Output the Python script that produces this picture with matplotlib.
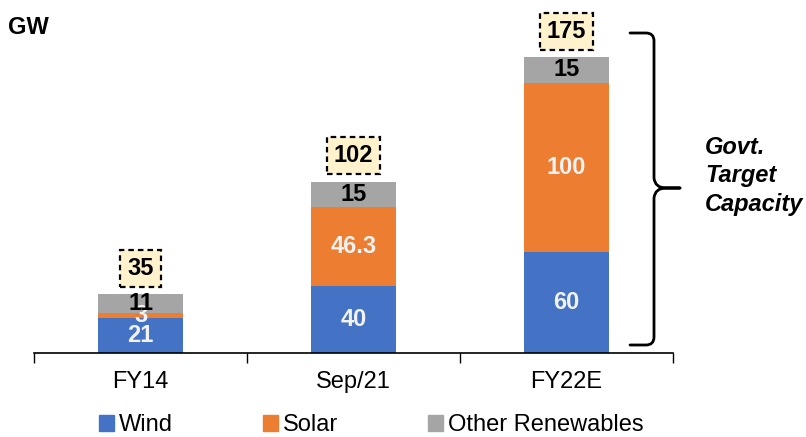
import numpy as np
import matplotlib
matplotlib.use('Agg')
import matplotlib.pyplot as plt
from matplotlib.patches import Patch, PathPatch
from matplotlib.path import Path

plt.rcParams['font.family'] = ['Liberation Sans', 'DejaVu Sans']

periods = ["FY14", "Sep/21", "FY22E"]
wind = [21, 40, 60]
solar = [3, 46.3, 100]
other = [11, 15, 15]
totals = [35, 102, 175]

series = [("Wind", wind, "#4472C4", "#F2F2F2"),
          ("Solar", solar, "#ED7D31", "#F2F2F2"),
          ("Other Renewables", other, "#A5A5A5", "black")]

W, H = 806, 437
FS = 17
fig = plt.figure(figsize=(W / 100, H / 100), dpi=100)
ax = fig.add_axes([34.3 / W, 1 - 353.3 / H, 638.4 / W, 333.3 / H])

x = np.arange(len(periods))
bottom = np.zeros(len(periods))
for name, vals, col, tcol in series:
    vals = np.array(vals, dtype=float)
    ax.bar(x, vals, width=0.4, bottom=bottom, color=col, label=name)
    for xi, b, v in zip(x, bottom, vals):
        ax.text(xi, b + v / 2, f"{v:g}", ha="center", va="center",
                fontsize=FS, fontweight="bold", color=tcol)
    bottom += vals

# total boxes above each stack
for xi, t in zip(x, totals):
    ax.text(xi, t + 15, str(t), ha="center", va="center", fontsize=FS,
            fontweight="bold",
            bbox=dict(boxstyle="square,pad=0.3", fc="#FFF2CC", ec="black",
                      ls=(0, (2.5, 1.8)), lw=1.6))

ax.set_xlim(-0.5, 2.5)
ax.set_ylim(0, 197)
ax.set_xticks([-0.5, 0.5, 1.5, 2.5])
ax.set_xticklabels([])
ax.set_xticks(x, minor=True)
ax.set_xticklabels(periods, minor=True, fontsize=FS)
ax.tick_params(axis="x", which="major", length=7, width=1, direction="out")
ax.tick_params(axis="x", which="minor", length=0, pad=13)
ax.set_yticks([])
for s in ["top", "right", "left"]:
    ax.spines[s].set_visible(False)
ax.spines["bottom"].set_linewidth(1.2)

fig.text(8 / W, 1 - 27 / H, "GW", fontsize=FS, fontweight="bold", va="center")

# curly brace next to the last bar
def px(p):
    return (p[0] / W, 1 - p[1] / H)

verts = [(630, 33), (646, 33), (654, 33), (654, 41), (654, 178), (655, 188), (666, 188), (680, 188),
         (680, 188), (666, 188), (655, 188), (654, 198), (654, 337), (654, 345), (646, 345), (630, 345)]
codes = [Path.MOVETO, Path.LINETO, Path.CURVE3, Path.CURVE3, Path.LINETO, Path.CURVE3, Path.CURVE3, Path.LINETO,
         Path.MOVETO, Path.LINETO, Path.CURVE3, Path.CURVE3, Path.LINETO, Path.CURVE3, Path.CURVE3, Path.LINETO]
brace = PathPatch(Path([px(v) for v in verts], codes), transform=fig.transFigure,
                  fc="none", ec="black", lw=2, capstyle="round", joinstyle="round")
fig.patches.append(brace)

fig.text(705 / W, 1 - 136 / H, "Govt.\nTarget\nCapacity", fontsize=FS, fontweight="bold",
         fontstyle="italic", va="top", ha="left", linespacing=1.3)

handles = [Patch(color=c) for _, _, c, _ in series]
fig.legend(handles, [s[0] for s in series], loc="center", bbox_to_anchor=(371 / W, 1 - 425 / H),
           ncol=3, frameon=False, fontsize=FS, handlelength=0.65, handleheight=0.65,
           handletextpad=0.2, columnspacing=3.8, borderpad=0)

plt.savefig("out.png", dpi=100)
